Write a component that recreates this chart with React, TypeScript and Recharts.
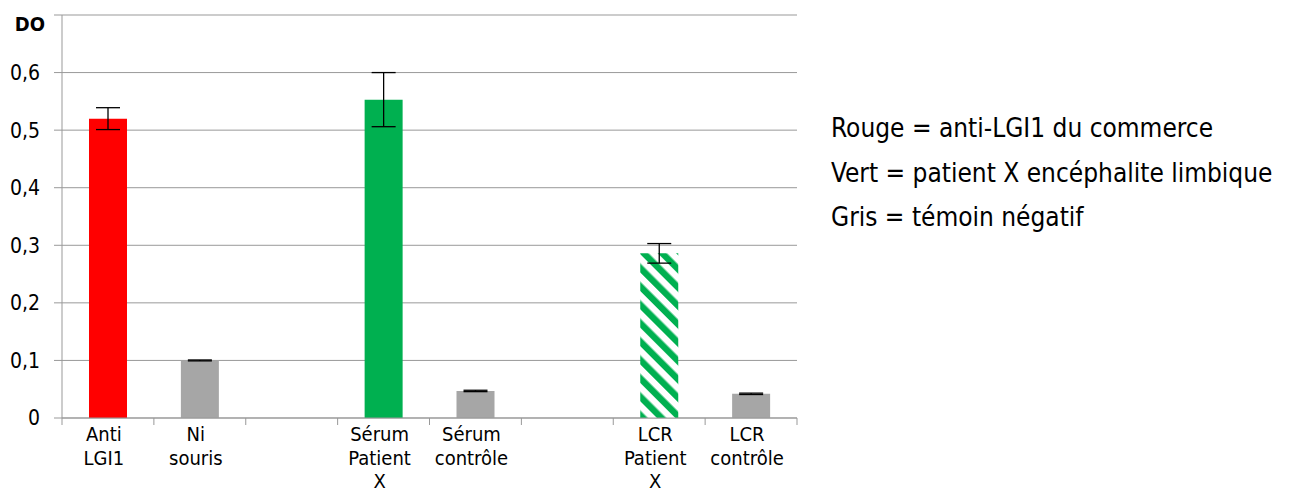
import React from "react";
import { ComposedChart, Bar, XAxis, YAxis, CartesianGrid, ErrorBar, Cell } from "recharts";

// categories (blank ones are the spacers between groups)
const categories = ["Anti\nLGI1", "Ni\nsouris", "", "Sérum\nPatient\nX", "Sérum\ncontrôle", "", "LCR\nPatient\nX", "LCR\ncontrôle"];
const doValues = [0.52, 0.1, null, 0.553, 0.047, null, 0.286, 0.042];
const doErrors = [0.019, 0.0008, 0, 0.047, 0.0012, 0, 0.017, 0.0012];
const barFills = ["#ff0000", "#a6a6a6", "none", "#00b050", "#a6a6a6", "none", "url(#hatchGreen)", "#a6a6a6"];
const yTicks = [0, 0.1, 0.2, 0.3, 0.4, 0.5, 0.6, 0.7];
const legendLines = [
  "Rouge = anti-LGI1 du commerce",
  "Vert = patient X encéphalite limbique",
  "Gris = témoin négatif",
];

const data = categories.map((c, i) => ({ name: c, value: doValues[i], err: doErrors[i] }));

const FONT = "'DejaVu Sans Condensed', 'DejaVu Sans', sans-serif";
const GRID = "#999999";
const CHART_W = 820;
const CHART_H = 495;
const MARGIN = { top: 15, right: 23, bottom: 7, left: 8 };
const Y_W = 54;
const X_H = 70;
const PLOT_W = CHART_W - MARGIN.left - MARGIN.right - Y_W;
const STEP = PLOT_W / categories.length;

const XTick = ({ x, y, payload, index }: any) => {
  const lines = String(payload.value || "").split("\n");
  const last = index === categories.length - 1;
  const cx = x - 4;
  return (
    <g>
      <line x1={x - STEP / 2} x2={x - STEP / 2} y1={y} y2={y + 7} stroke={GRID} />
      {last && <line x1={x + STEP / 2} x2={x + STEP / 2} y1={y} y2={y + 7} stroke={GRID} />}
      <text x={cx} y={y} textAnchor="middle" fontSize={20} fontFamily={FONT} fill="#000">
        {lines.map((l, i) => (
          <tspan key={i} x={cx} y={y + 23 + i * 23.5}>{l}</tspan>
        ))}
      </text>
    </g>
  );
};

const YTick = ({ x, y, payload }: any) => {
  if (payload.value >= 0.7) {
    return (
      <text x={x + 5} y={y + 9} dy="0.355em" textAnchor="end" fontSize={20} fontWeight="bold" fontFamily={FONT} fill="#000">
        DO
      </text>
    );
  }
  const label = payload.value === 0 ? "0" : payload.value.toFixed(1).replace(".", ",");
  return (
    <text x={x} y={y} dy="0.355em" textAnchor="end" fontSize={21} fontFamily={FONT} fill="#000">
      {label}
    </text>
  );
};

export default function App() {
  return (
    <div style={{ position: "absolute", left: 0, top: 0, width: 1299, height: 495, background: "#fff", fontFamily: FONT }}>
      <svg width={0} height={0} style={{ position: "absolute" }}>
        <defs>
          <pattern id="hatchGreen" patternUnits="userSpaceOnUse" width={13} height={13} patternTransform="rotate(-45)">
            <rect x={0} y={0} width={13} height={13} fill="#ffffff" />
            <rect x={0} y={0} width={6.5} height={13} fill="#00b050" />
          </pattern>
        </defs>
      </svg>
      <ComposedChart width={CHART_W} height={CHART_H} data={data} margin={MARGIN}>
        <CartesianGrid vertical={false} stroke={GRID} />
        <XAxis
          dataKey="name"
          height={X_H}
          interval={0}
          stroke={GRID}
          tickLine={false}
          tickSize={0}
          tickMargin={0}
          tick={<XTick />}
        />
        <YAxis
          width={Y_W}
          domain={[0, 0.7]}
          ticks={yTicks}
          interval={0}
          stroke={GRID}
          tickSize={8}
          tickMargin={14}
          tick={<YTick />}
        />
        <Bar dataKey="value" barSize={38} isAnimationActive={false}>
          {data.map((d, i) => (
            <Cell key={i} fill={barFills[i]} />
          ))}
          <ErrorBar dataKey="err" width={12} stroke="#000" strokeWidth={1.3} isAnimationActive={false} />
        </Bar>
      </ComposedChart>
      {legendLines.map((t, i) => (
        <div key={i} style={{ position: "absolute", left: 831, top: 113 + i * 44.5, fontSize: 26, lineHeight: "30px", whiteSpace: "nowrap", color: "#000" }}>
          {t}
        </div>
      ))}
    </div>
  );
}
